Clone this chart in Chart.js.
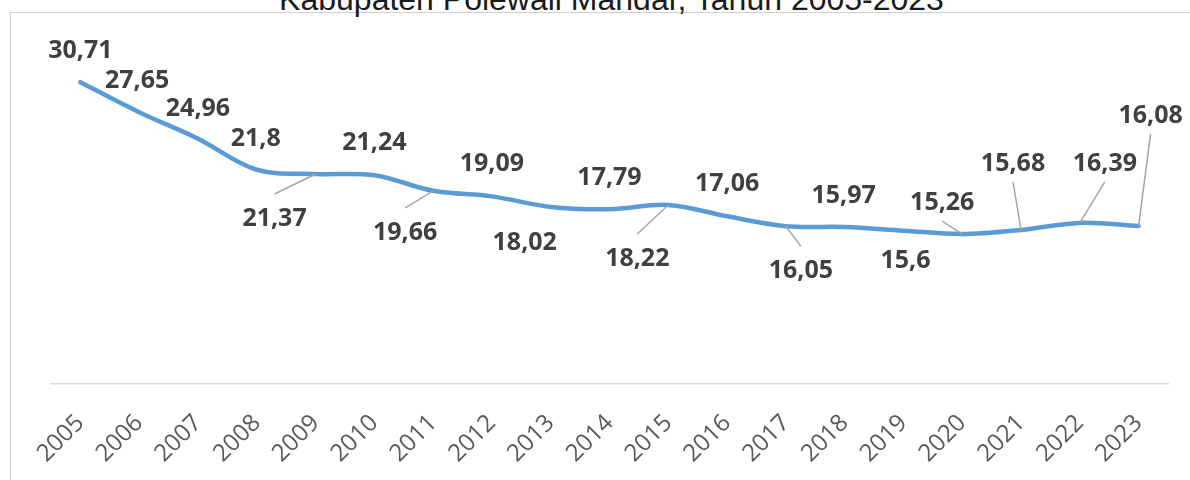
<!DOCTYPE html>
<html>
<head>
<meta charset="utf-8">
<script src="https://cdn.jsdelivr.net/npm/chart.js@4.4.1/dist/chart.umd.min.js"></script>
<style>
  body { margin: 0; background: #fff; }
  #wrap { position: relative; width: 1190px; height: 480px; overflow: hidden; }
  #frame { position: absolute; left: 10px; top: 12px; width: 1300px; height: 600px; border: 1px solid #d0d0d0; }
  #title { position: absolute; left: 0; top: -17px; width: 1223px; text-align: center;
           font: 32px/32px "Liberation Sans", Arial, sans-serif; color: #1a1a1a; white-space: nowrap; }
  canvas { position: absolute; left: 0; top: 0; }
</style>
</head>
<body>
<div id="wrap">
  <div id="frame"></div>
  <div id="title">Kabupaten Polewali Mandar, Tahun 2005-2023</div>
  <canvas id="chart" width="1190" height="480"></canvas>
</div>
<script>
// data
const years = ['2005', '2006', '2007', '2008', '2009', '2010', '2011', '2012', '2013', '2014',
               '2015', '2016', '2017', '2018', '2019', '2020', '2021', '2022', '2023'];
const values = [30.71, 27.65, 24.96, 21.8, 21.37, 21.24, 19.66, 19.09, 18.02, 17.79,
                18.22, 17.06, 16.05, 15.97, 15.6, 15.26, 15.68, 16.39, 16.08];

// where each label sits relative to its point (px), and which ones get a leader line
const labelOffsets = [[0, -33], [-2, -33], [0, -32], [-1, -33], [-41, 43], [0, -34], [-28, 40],
                      [0, -34], [-26, 34], [0, -33], [-31, 52], [0, -34], [15, 43], [-1, -33],
                      [2, 28], [-20, -33], [-8, -68], [25, -61], [12, -112]];
const leaders = [0, 0, 0, 0, 1, 0, 1, 0, 0, 0, 1, 0, 1, 0, 0, 1, 1, 1, 1];

// draws the value labels (comma decimals, like the excel sheet)
const dataLabels = {
  id: 'dataLabels',
  afterDatasetsDraw(chart) {
    const ctx = chart.ctx;
    const pts = chart.getDatasetMeta(0).data;
    ctx.save();
    ctx.font = 'bold 25px "Open Sans"';
    ctx.textAlign = 'center';
    ctx.textBaseline = 'alphabetic';
    pts.forEach(function (p, i) {
      const cx = p.x + labelOffsets[i][0];
      const cy = p.y + labelOffsets[i][1];
      if (leaders[i]) {
        const sy = cy + (labelOffsets[i][1] < 0 ? 20 : -23);
        ctx.strokeStyle = '#a6a6a6';
        ctx.lineWidth = 1.5;
        ctx.beginPath();
        ctx.moveTo(cx, sy);
        ctx.lineTo(p.x, p.y);
        ctx.stroke();
      }
      ctx.fillStyle = '#404040';
      ctx.fillText(String(values[i]).replace('.', ','), cx, cy + 9);
    });
    ctx.restore();
  }
};

let graph = new Chart(document.getElementById('chart'), {
  type: 'line',
  data: {
    labels: years,
    datasets: [{
      data: values,
      borderColor: '#5b9bd5',
      borderWidth: 4.5,
      borderCapStyle: 'round',
      tension: 0.35,
      pointRadius: 0,
      fill: false
    }]
  },
  options: {
    responsive: false,
    animation: false,
    devicePixelRatio: 1,
    layout: { padding: { left: 51, right: 22, top: 40, bottom: 0 } },
    plugins: { legend: { display: false }, tooltip: { enabled: false }, title: { display: false } },
    scales: {
      x: {
        offset: true,
        grid: { display: false, drawTicks: false },
        border: { display: true, color: '#d9d9d9', width: 1.5 },
        ticks: {
          color: '#595959',
          font: { family: 'Open Sans', size: 24 },
          minRotation: 45,
          maxRotation: 45,
          padding: 25,
          autoSkip: false
        },
        afterFit: function (scale) { scale.height = 96; }
      },
      y: {
        display: false,
        min: 0,
        max: 35
      }
    }
  },
  plugins: [dataLabels]
});
</script>
</body>
</html>
